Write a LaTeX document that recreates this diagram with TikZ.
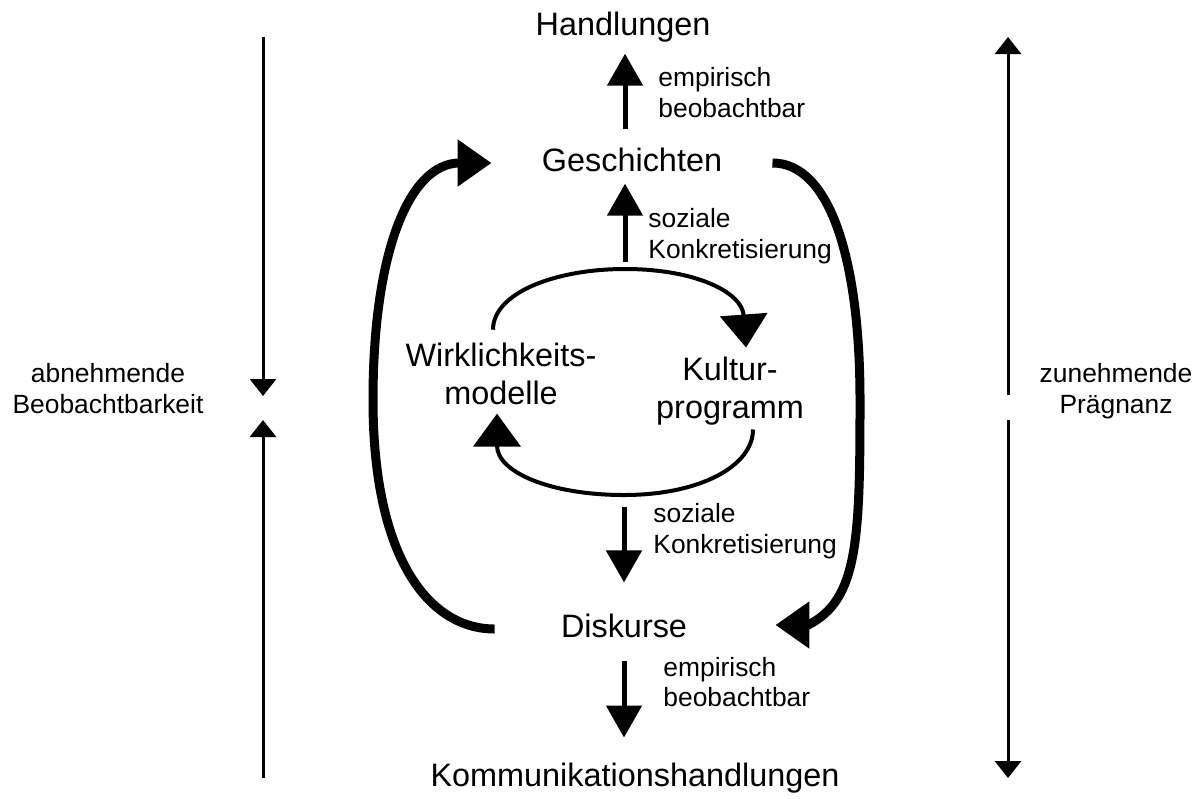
\documentclass[tikz,border=0pt]{standalone}
\usepackage{fontspec}
\setmainfont{Liberation Sans}
\usetikzlibrary{arrows.meta}
\begin{document}
\begin{tikzpicture}[x=0.5pt,y=-0.5pt,
  bigtext/.style={font=\fontsize{16.2}{19}\selectfont, inner sep=0pt},
  smalltext/.style={font=\fontsize{13.2}{15.3}\selectfont, inner sep=0pt, align=left},
  stagearrow/.style={line width=2.5pt, -{Triangle[width=17.5pt,length=16pt]}},
  loopline/.style={line width=2pt, -{Triangle[width=23.5pt,length=16.5pt]}},
  feedback/.style={line width=4.5pt, -{Triangle[width=22.5pt,length=17pt]}},
  axisarrow/.style={line width=1.5pt, -{Triangle[width=13pt,length=8.5pt]}},
]
\useasboundingbox (0,0) rectangle (1202,798);

% labels
\node[bigtext] (hand) at (623,27) {Handlungen};
\node[bigtext] (gesch) at (632,160) {Geschichten};
\node[bigtext, align=center] (wirk) at (501,374) {Wirklichkeits-\\modelle};
\node[bigtext, align=center] (kult) at (730,391) {Kultur-\\programm};
\node[bigtext] (disk) at (624,625.5) {Diskurse};
\node[bigtext] (komm) at (635,778) {Kommunikationshandlungen};

\node[smalltext, anchor=west] (emp1) at (658,92.5) {empirisch\\beobachtbar};
\node[smalltext, anchor=west] (soz1) at (648,236) {soziale\\Konkretisierung};
\node[smalltext, anchor=west] (soz2) at (653,531) {soziale\\Konkretisierung};
\node[smalltext, anchor=west] (emp2) at (663,682) {empirisch\\beobachtbar};
\node[smalltext, align=center] (abn) at (108,388.5) {abnehmende\\Beobachtbarkeit};
\node[smalltext, align=center] (zun) at (1116,391) {zunehmende\\Prägnanz};

% top and bottom of the inner loop
\coordinate (looptop) at (625,269);
\coordinate (loopbot) at (624,495);

% vertical stage arrows
\draw[stagearrow, shorten <=9.2pt, shorten >=5.6pt] (gesch.north -| looptop) -- (hand.south -| looptop);
\draw[stagearrow, shorten <=3.5pt, shorten >=5.7pt] (looptop) -- (gesch.south -| looptop);
\draw[stagearrow, shorten <=6pt, shorten >=15.4pt] (loopbot) -- (disk.north -| loopbot);
\draw[stagearrow, shorten <=11.4pt, shorten >=12.5pt] (disk.south -| loopbot) -- (komm.north -| loopbot);

% inner loop
\draw[loopline] ([shift={(-8,-13)}]wirk.north) .. controls (493,293) and (555,269) .. (looptop)
  .. controls (695,269) and (742,292) .. ([shift={(16,-9)}]kult.north);
\draw[loopline] ([shift={(23,4)}]kult.south) .. controls (753,466) and (700,495) .. (loopbot)
  .. controls (550,495) and (497,472) .. ([shift={(-4,8.35)}]wirk.south);

% outer feedback arcs
\draw[feedback] ([shift={(-66,3.5)}]disk.west) .. controls (430,629) and (373,560) .. (373,400)
  .. controls (373,250) and (410,163) .. ([shift={(-50,3)}]gesch.west);
\draw[feedback] ([shift={(50,3)}]gesch.east) .. controls (830,163) and (860,260) .. (860,400)
  .. controls (860,540) and (858,600) .. (808,625) -- ([shift={(88,-0.5)}]disk.east);

% side scales
\coordinate (ltop) at (263,37);
\coordinate (lmidA) at (263,396);
\coordinate (lmidB) at (263,420);
\coordinate (lbot) at (263,778);
\draw[axisarrow] (ltop) -- (lmidA);
\draw[axisarrow] (lbot) -- (lmidB);

\coordinate (rtop) at (1008,37);
\coordinate (rmidA) at (1008,395);
\coordinate (rmidB) at (1008,420);
\coordinate (rbot) at (1008,778);
\draw[axisarrow] (rmidA) -- (rtop);
\draw[axisarrow] (rmidB) -- (rbot);
\end{tikzpicture}
\end{document}
